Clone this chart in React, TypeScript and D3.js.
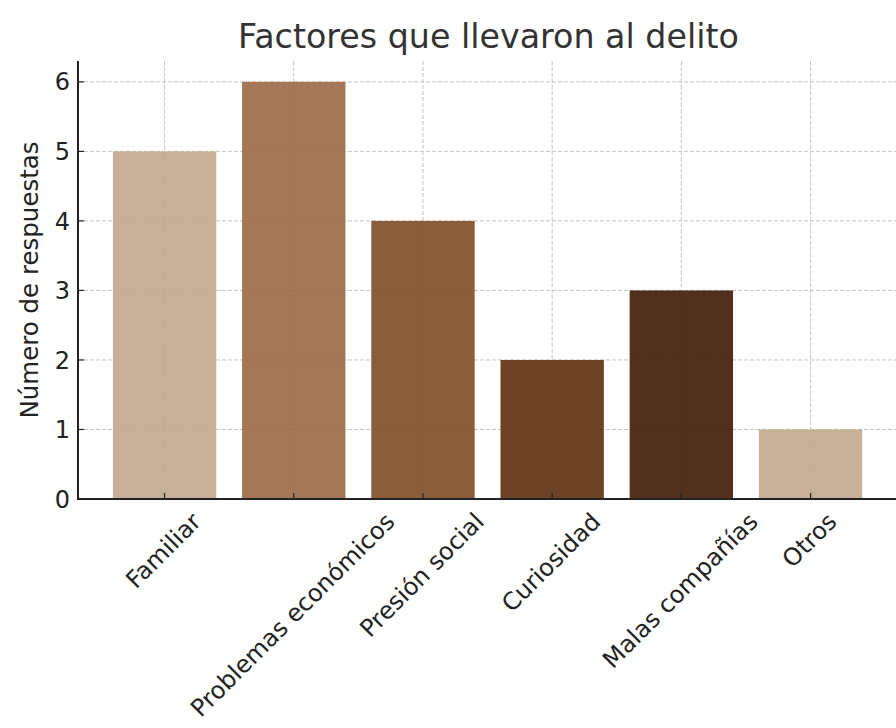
import React, { useEffect, useRef } from "react";
import * as d3 from "d3";

const categories = ["Familiar", "Problemas económicos", "Presión social", "Curiosidad", "Malas compañías", "Otros"];
const values = [5, 6, 4, 2, 3, 1];
const colors = ["#c0a78d", "#9b6847", "#7e4c26", "#5c2f10", "#3e1a05", "#c0a78d"];
const yTicks = [0, 1, 2, 3, 4, 5, 6];
const titleText = "Factores que llevaron al delito";
const yLabel = "Número de respuestas";

const W = 896;
const H = 728;
const FONT = "'DejaVu Sans', sans-serif";

export default function App() {
  const ref = useRef<SVGSVGElement>(null);

  useEffect(() => {
    const svg = d3.select(ref.current);
    svg.selectAll("*").remove();

    const left = 78;
    const bottom = 499;
    const top = 61;
    const pitch = 129.2;
    const x = d3.scaleLinear().domain([-0.67, categories.length - 1 + 0.69]).range([left, left + (categories.length - 1 + 1.36) * pitch]);
    const y = d3.scaleLinear().domain([0, 6.3]).range([bottom, top]);
    const right = x.range()[1];

    // grid
    const grid = svg.append("g");
    grid.selectAll("line.h").data(yTicks).enter().append("line")
      .attr("x1", left).attr("x2", right)
      .attr("y1", (d) => y(d)).attr("y2", (d) => y(d))
      .attr("stroke", "#c4c4c4").attr("stroke-width", 1).attr("stroke-dasharray", "4,2");
    grid.selectAll("line.v").data(categories).enter().append("line")
      .attr("x1", (_, i) => x(i)).attr("x2", (_, i) => x(i))
      .attr("y1", top).attr("y2", bottom)
      .attr("stroke", "#c4c4c4").attr("stroke-width", 1).attr("stroke-dasharray", "4,2");

    // bars
    const bw = x(0.4) - x(-0.4);
    svg.append("g").selectAll("rect").data(values).enter().append("rect")
      .attr("x", (_, i) => x(i) - bw / 2)
      .attr("width", bw)
      .attr("y", (d) => y(d))
      .attr("height", (d) => y(0) - y(d))
      .attr("fill", (_, i) => colors[i])
      .attr("fill-opacity", 0.9);

    // spines
    svg.append("line").attr("x1", left).attr("x2", left).attr("y1", top).attr("y2", bottom)
      .attr("stroke", "#222").attr("stroke-width", 2);
    svg.append("line").attr("x1", left - 1).attr("x2", right).attr("y1", bottom).attr("y2", bottom)
      .attr("stroke", "#222").attr("stroke-width", 2);

    // y ticks
    const yt = svg.append("g");
    yTicks.forEach((t) => {
      yt.append("line").attr("x1", left).attr("x2", left + 6).attr("y1", y(t)).attr("y2", y(t))
        .attr("stroke", "#222").attr("stroke-width", 1.2);
      yt.append("text").attr("x", 70).attr("y", y(t)).attr("dy", "0.36em")
        .attr("text-anchor", "end").attr("font-family", FONT).attr("font-size", 24)
        .attr("fill", "#222").text(String(t));
    });

    // x ticks + labels
    const xt = svg.append("g");
    categories.forEach((c, i) => {
      const cx = x(i);
      xt.append("line").attr("x1", cx).attr("x2", cx).attr("y1", bottom).attr("y2", bottom - 6)
        .attr("stroke", "#222").attr("stroke-width", 1.2);
      const t = xt.append("text").attr("text-anchor", "middle").attr("dominant-baseline", "central")
        .attr("font-family", FONT).attr("font-size", 24).attr("fill", "#222").text(c);
      const w = (t.node() as SVGTextElement).getComputedTextLength();
      const h = 24;
      const cy = 509 + ((w + h) * Math.SQRT1_2) / 2;
      t.attr("transform", `translate(${cx - 1},${cy}) rotate(-45)`);
    });

    // y label
    svg.append("text").attr("transform", `translate(38,${(top + bottom) / 2}) rotate(-90)`)
      .attr("text-anchor", "middle").attr("font-family", FONT).attr("font-size", 24.5)
      .attr("fill", "#222").text(yLabel);

    // title
    svg.append("text").attr("x", 488.5).attr("y", 48)
      .attr("text-anchor", "middle").attr("font-family", FONT).attr("font-size", 33.3)
      .attr("fill", "#333").text(titleText);
  }, []);

  return (
    <svg ref={ref} width={W} height={H} style={{ position: "absolute", left: 0, top: 0, background: "#fff" }} />
  );
}
